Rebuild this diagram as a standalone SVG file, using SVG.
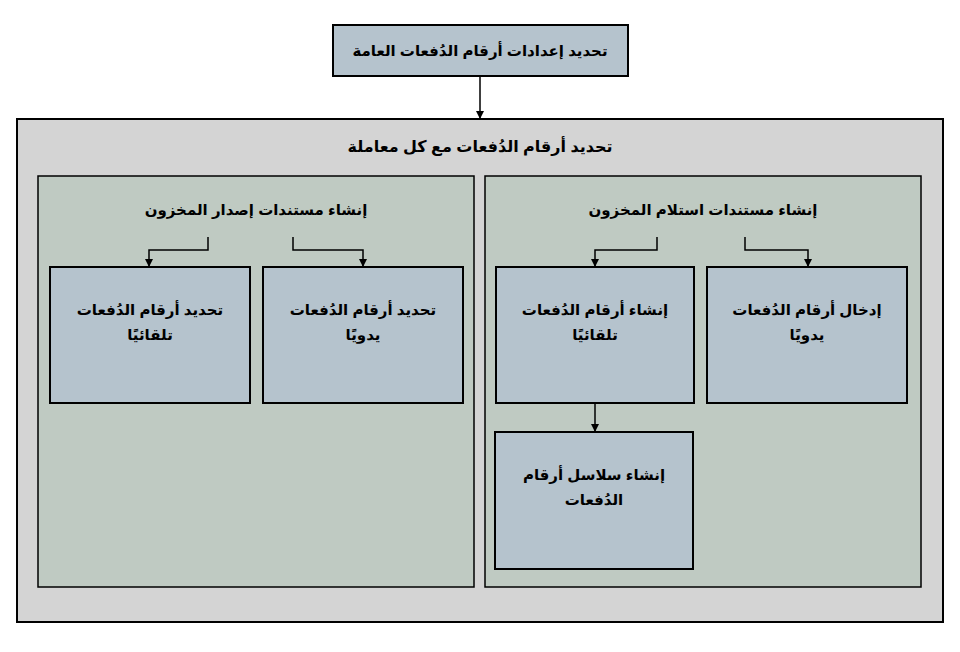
<svg xmlns="http://www.w3.org/2000/svg" width="960" height="652" viewBox="0 0 960 652">
<defs>
<marker id="a" viewBox="0 0 8 8" markerWidth="8" markerHeight="8" refX="8" refY="4" orient="auto" markerUnits="userSpaceOnUse">
<path d="M0,0 L8,4 L0,8 Z" fill="#000"/>
</marker>
<style>
text{font-family:"Liberation Sans","DejaVu Sans",sans-serif;font-weight:bold;font-size:15px;fill:#000;text-anchor:middle;direction:rtl}
.box{fill:#b5c3cd;stroke:#000;stroke-width:2}
.panel{fill:#bfcac2;stroke:#000;stroke-width:1.5}
.outer{fill:#d4d4d4;stroke:#000;stroke-width:2}
.c{fill:none;stroke:#000;stroke-width:1.5;marker-end:url(#a)}
</style>
</defs>
<rect width="960" height="652" fill="#fff"/>
<g id="outer"><rect class="outer" x="17" y="119" width="926" height="503"/><text x="480" y="152" style="font-size:16px">تحديد أرقام الدُفعات مع كل معاملة</text></g>
<g id="top"><rect class="box" x="333" y="25" width="295" height="51"/><text x="480" y="56">تحديد إعدادات أرقام الدُفعات العامة</text></g>
<g id="leftPanel"><rect class="panel" x="38" y="176" width="436" height="411"/><text x="256" y="215">إنشاء مستندات إصدار المخزون</text></g>
<g id="rightPanel"><rect class="panel" x="485" y="176" width="436" height="411"/><text x="703" y="215">إنشاء مستندات استلام المخزون</text></g>
<g id="L1"><rect class="box" x="50" y="267" width="200" height="136"/><text x="150" y="315">تحديد أرقام الدُفعات</text><text x="150" y="340">تلقائيًا</text></g>
<g id="L2"><rect class="box" x="263" y="267" width="200" height="136"/><text x="363" y="315">تحديد أرقام الدُفعات</text><text x="363" y="340">يدويًا</text></g>
<g id="R1"><rect class="box" x="496" y="267" width="198" height="136"/><text x="595" y="315">إنشاء أرقام الدُفعات</text><text x="595" y="340">تلقائيًا</text></g>
<g id="R2"><rect class="box" x="707" y="267" width="200" height="136"/><text x="807" y="315">إدخال أرقام الدُفعات</text><text x="807" y="340">يدويًا</text></g>
<g id="R3"><rect class="box" x="495" y="432" width="198" height="137"/><text x="594" y="480">إنشاء سلاسل أرقام</text><text x="594" y="505">الدُفعات</text></g>
<g id="connectors">
<path class="c" d="M480,76 V119"/>
<path class="c" d="M208,237 V250 H149 V267"/>
<path class="c" d="M293,237 V250 H363 V267"/>
<path class="c" d="M657,237 V250 H595 V267"/>
<path class="c" d="M745,237 V250 H808 V267"/>
<path class="c" d="M595,403 V432"/>
</g>
</svg>
